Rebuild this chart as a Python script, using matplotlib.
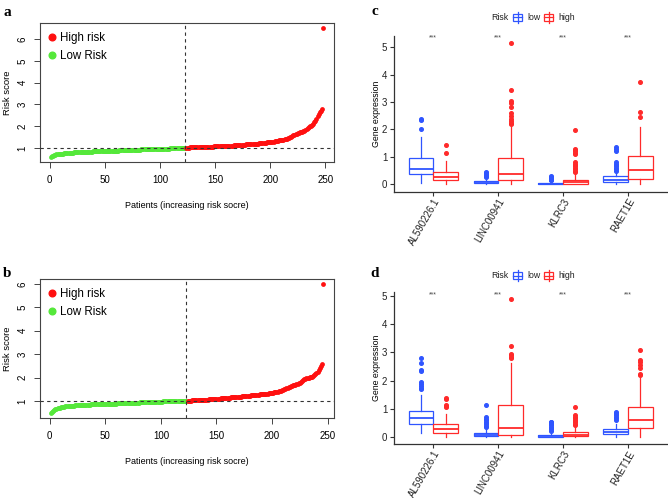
import matplotlib
matplotlib.use("Agg")
import matplotlib.pyplot as plt
from matplotlib.lines import Line2D
from matplotlib.patches import Rectangle

SANS = ["Liberation Sans", "DejaVu Sans"]
plt.rcParams["font.family"] = SANS

# ---- risk score curves (sorted), panels a and b ----
a_low = [0.60,0.63,0.66,0.68,0.70,0.71,0.72,0.73,0.74,0.74,
         0.75,0.75,0.76,0.76,0.77,0.77,0.78,0.78,0.79,0.79,
         0.79,0.80,0.80,0.80,0.81,0.81,0.81,0.82,0.82,0.82,
         0.83,0.83,0.83,0.83,0.84,0.84,0.84,0.84,0.85,0.85,
         0.85,0.85,0.86,0.86,0.86,0.86,0.86,0.87,0.87,0.87,
         0.87,0.87,0.88,0.88,0.88,0.88,0.88,0.89,0.89,0.89,
         0.89,0.89,0.90,0.90,0.90,0.90,0.90,0.91,0.91,0.91,
         0.91,0.91,0.92,0.92,0.92,0.92,0.92,0.93,0.93,0.93,
         0.93,0.93,0.94,0.94,0.94,0.94,0.94,0.95,0.95,0.95,
         0.95,0.95,0.96,0.96,0.96,0.96,0.96,0.97,0.97,0.97,
         0.97,0.97,0.97,0.98,0.98,0.98,0.98,0.98,0.99,0.99,
         0.99,0.99,0.99,1.00,1.00,1.00,1.00,1.00,1.01,1.01,
         1.01,1.01,1.02]
a_high = [1.02,1.02,1.02,1.03,1.03,1.03,1.03,1.04,1.04,1.04,
          1.04,1.04,1.05,1.05,1.05,1.05,1.06,1.06,1.06,1.06,
          1.06,1.07,1.07,1.07,1.07,1.08,1.08,1.08,1.08,1.09,
          1.09,1.09,1.09,1.10,1.10,1.10,1.10,1.11,1.11,1.11,
          1.12,1.12,1.12,1.13,1.13,1.13,1.14,1.14,1.14,1.15,
          1.15,1.15,1.16,1.16,1.17,1.17,1.17,1.18,1.18,1.19,
          1.19,1.19,1.20,1.20,1.21,1.21,1.22,1.22,1.23,1.23,
          1.24,1.25,1.25,1.26,1.26,1.27,1.28,1.28,1.29,1.30,
          1.31,1.32,1.33,1.34,1.35,1.36,1.37,1.38,1.39,1.40,
          1.42,1.44,1.46,1.48,1.50,1.52,1.55,1.58,1.61,1.64,
          1.66,1.68,1.70,1.72,1.74,1.76,1.78,1.80,1.83,1.86,
          1.90,1.95,2.00,2.02,2.05,2.10,2.18,2.26,2.35,2.45,
          2.55,2.65,2.72,2.78,6.50]
b_low = [0.48,0.53,0.58,0.62,0.65,0.67,0.69,0.71,0.72,0.73,
         0.74,0.75,0.76,0.77,0.77,0.78,0.78,0.79,0.79,0.80,
         0.80,0.80,0.81,0.81,0.81,0.82,0.82,0.82,0.83,0.83,
         0.83,0.83,0.84,0.84,0.84,0.84,0.85,0.85,0.85,0.85,
         0.86,0.86,0.86,0.86,0.86,0.87,0.87,0.87,0.87,0.87,
         0.88,0.88,0.88,0.88,0.88,0.89,0.89,0.89,0.89,0.89,
         0.90,0.90,0.90,0.90,0.90,0.91,0.91,0.91,0.91,0.91,
         0.92,0.92,0.92,0.92,0.92,0.93,0.93,0.93,0.93,0.93,
         0.94,0.94,0.94,0.94,0.94,0.95,0.95,0.95,0.95,0.95,
         0.96,0.96,0.96,0.96,0.96,0.97,0.97,0.97,0.97,0.97,
         0.97,0.98,0.98,0.98,0.98,0.98,0.99,0.99,0.99,0.99,
         0.99,0.99,1.00,1.00,1.00,1.00,1.00,1.00,1.00,1.00,
         1.00,1.00,1.00]
b_high = [1.00,1.01,1.01,1.01,1.02,1.02,1.02,1.03,1.03,1.03,
          1.04,1.04,1.04,1.05,1.05,1.05,1.06,1.06,1.06,1.07,
          1.07,1.07,1.08,1.08,1.08,1.09,1.09,1.10,1.10,1.10,
          1.11,1.11,1.12,1.12,1.12,1.13,1.13,1.14,1.14,1.15,
          1.15,1.16,1.16,1.17,1.17,1.18,1.18,1.19,1.19,1.20,
          1.20,1.21,1.21,1.22,1.22,1.23,1.23,1.24,1.24,1.25,
          1.25,1.26,1.26,1.27,1.27,1.28,1.28,1.29,1.29,1.30,
          1.30,1.31,1.31,1.32,1.33,1.34,1.35,1.36,1.37,1.38,
          1.39,1.40,1.41,1.42,1.44,1.46,1.48,1.50,1.52,1.54,
          1.56,1.58,1.60,1.62,1.64,1.66,1.68,1.70,1.72,1.74,
          1.76,1.78,1.80,1.84,1.88,1.92,1.95,1.97,1.98,2.00,
          2.01,2.02,2.03,2.05,2.10,2.15,2.20,2.25,2.30,2.40,
          2.50,2.58,5.97]
cutoff = 1.0

# ---- gene expression boxplots, panels c and d ----
genes = ["AL590226.1", "LINC00941", "KLRC3", "RAET1E"]
# per gene: [q1, median, q3, whisker low, whisker high]
c_low_box = [[0.38, 0.56, 0.97, 0.04, 1.74], [0.04, 0.08, 0.12, 0.0, 0.24],
             [0.0, 0.02, 0.05, 0.0, 0.12], [0.09, 0.16, 0.30, 0.0, 0.42]]
c_high_box = [[0.15, 0.28, 0.44, 0.0, 0.84], [0.15, 0.36, 0.95, 0.0, 2.10],
              [0.01, 0.09, 0.17, 0.0, 0.40], [0.20, 0.52, 1.02, 0.0, 2.10]]
c_low_out = [[2.0, 2.33, 2.37], [0.28, 0.31, 0.34, 0.37, 0.40, 0.43, 0.46],
             [0.14, 0.17, 0.20, 0.23, 0.26, 0.30],
             [0.5, 0.55, 0.6, 0.65, 0.7, 0.75, 0.8, 1.22, 1.3, 1.36]]
c_high_out = [[1.14, 1.43], [2.2, 2.25, 2.3, 2.4, 2.5, 2.6, 2.82, 2.98, 3.05, 3.45, 5.15],
              [0.45, 0.5, 0.55, 0.6, 0.65, 0.7, 0.75, 0.8, 1.1, 1.15, 1.2, 1.25, 1.3, 1.97],
              [2.47, 2.62, 3.73]]
d_low_box = [[0.48, 0.67, 0.94, 0.15, 1.49], [0.03, 0.07, 0.16, 0.0, 0.30],
             [0.0, 0.04, 0.09, 0.0, 0.18], [0.10, 0.18, 0.30, 0.0, 0.45]]
d_high_box = [[0.15, 0.29, 0.45, 0.0, 0.83], [0.09, 0.31, 1.14, 0.0, 2.62],
              [0.04, 0.09, 0.19, 0.0, 0.38], [0.32, 0.62, 1.06, 0.0, 2.10]]
d_low_out = [[1.7, 1.75, 1.8, 1.9, 1.97, 2.33, 2.37, 2.62, 2.82],
             [0.35, 0.4, 0.45, 0.5, 0.55, 0.6, 0.65, 0.7, 1.15],
             [0.22, 0.27, 0.32, 0.37, 0.42, 0.47, 0.52, 0.55],
             [0.62, 0.67, 0.72, 0.77, 0.82, 0.87, 0.9]]
d_high_out = [[1.05, 1.1, 1.15, 1.35, 1.4], [2.8, 2.85, 2.9, 2.95, 3.23, 4.9],
              [0.42, 0.47, 0.52, 0.57, 0.62, 0.67, 0.72, 0.78, 1.07],
              [2.2, 2.25, 2.45, 2.55, 2.65, 2.72, 3.1]]
sig = ["***", "***", "***", "***"]

GREEN = "#55e83a"; RED = "#ff1010"
BLUE = "#2f55ff"; BRED = "#ff2a2a"

fig = plt.figure(figsize=(6.68, 4.98), dpi=100)
W, H = 668, 498
def px_axes(x0, y0, x1, y1):
    return fig.add_axes([x0 / W, 1 - y1 / H, (x1 - x0) / W, (y1 - y0) / H])


def risk_panel(ax, low, high, ylim):
    n_low = len(low)
    xs_low = list(range(1, n_low + 1))
    xs_high = list(range(n_low + 1, n_low + len(high) + 1))
    ax.scatter(xs_low, low, s=12, color=GREEN, lw=0, zorder=3)
    ax.scatter(xs_high, high, s=12, color=RED, lw=0, zorder=3)
    ax.axhline(cutoff, color="#333", ls=(0, (3, 3)), lw=0.8, zorder=4)
    ax.axvline(n_low, color="#333", ls=(0, (3, 3)), lw=0.8, zorder=4)
    n = n_low + len(high)
    ax.set_xlim(1 - 0.04 * (n - 1), n + 0.04 * (n - 1))
    ax.set_ylim(*ylim)
    ax.set_xticks([0, 50, 100, 150, 200, 250])
    ax.set_yticks([1, 2, 3, 4, 5, 6])
    for sp in ax.spines.values():
        sp.set_color("#444"); sp.set_linewidth(0.8)
    ax.tick_params(length=4, width=0.7, color="#444", labelsize=7, pad=5)
    for t in ax.get_yticklabels():
        t.set_rotation(90); t.set_va("center")
    ax.set_xlabel("Patients (increasing risk socre)", fontsize=6.5, labelpad=12)
    ax.set_ylabel("Risk score", fontsize=6.8, labelpad=4)
    handles = [Line2D([], [], ls="", marker="o", ms=4.8, color=RED, label="High risk"),
               Line2D([], [], ls="", marker="o", ms=4.8, color=GREEN, label="Low Risk")]
    ax.legend(handles=handles, loc="upper left", frameon=False, handlelength=0.5,
              handletextpad=0.45, labelspacing=0.55, borderaxespad=0.45,
              borderpad=0.3, prop={"size": 8.3})


def box_panel(ax, low_box, high_box, low_out, high_out, ylim, sig_y):
    for boxes, outs, off, col in [(low_box, low_out, -0.19, BLUE), (high_box, high_out, 0.19, BRED)]:
        stats = []
        for b, o in zip(boxes, outs):
            stats.append(dict(q1=b[0], med=b[1], q3=b[2], whislo=b[3], whishi=b[4], fliers=o))
        pos = [i + 1 + off for i in range(len(boxes))]
        ax.bxp(stats, positions=pos, widths=0.38, showcaps=False, patch_artist=True,
               boxprops=dict(facecolor="white", edgecolor=col, lw=0.9),
               medianprops=dict(color=col, lw=1.3),
               whiskerprops=dict(color=col, lw=0.9),
               flierprops=dict(marker="o", markerfacecolor=col, markeredgecolor=col,
                               markersize=2.6, lw=0))
    for i, s in enumerate(sig):
        ax.text(i + 1, sig_y, s, ha="center", va="center", fontsize=5, color="#444")
    ax.set_xlim(0.4, 4.6)
    ax.set_ylim(*ylim)
    ax.set_xticks(range(1, len(genes) + 1))
    ax.set_xticklabels(genes, rotation=60, ha="right", va="top", rotation_mode="anchor",
                       fontsize=5.2)
    ax.set_yticks([0, 1, 2, 3, 4, 5])
    ax.spines["top"].set_visible(False); ax.spines["right"].set_visible(False)
    for sp in ("left", "bottom"):
        ax.spines[sp].set_color("#333"); ax.spines[sp].set_linewidth(0.9)
    ax.tick_params(length=3, width=0.8, color="#333", labelsize=7, labelcolor="#222", pad=2)
    ax.tick_params(axis="x", pad=0.5)
    ax.set_ylabel("Gene expression", fontsize=6.3, labelpad=1)


ax_a = px_axes(40, 23, 334, 162)
risk_panel(ax_a, a_low, a_high, (0.364, 6.736))
ax_b = px_axes(40, 279.3, 334, 418.3)
risk_panel(ax_b, b_low, b_high, (0.26, 6.19))
ax_c = px_axes(394.3, 36, 667, 191.7)
box_panel(ax_c, c_low_box, c_high_box, c_low_out, c_high_out, (-0.27, 5.41), 5.33)
ax_d = px_axes(394.3, 292, 667, 444)
box_panel(ax_d, d_low_box, d_high_box, d_low_out, d_high_out, (-0.245, 5.145), 5.05)

# overlay in pixel coordinates: panel letters and box legends
ov = fig.add_axes([0, 0, 1, 1]); ov.set_xlim(0, W); ov.set_ylim(H, 0); ov.axis("off")
for x, y, t in [(7, 12, "a"), (7, 273, "b"), (375, 11, "c"), (375, 273, "d")]:
    ov.text(x, y, t, fontsize=11, fontweight="bold", family=["Liberation Serif", "DejaVu Serif"],
            ha="center", va="center")
for yc in (17.3, 275.7):
    ov.text(499.5, yc, "Risk", fontsize=6.3, ha="center", va="center", color="#222")
    for xb, col, lab in [(517.5, BLUE, "low"), (548.5, BRED, "high")]:
        ov.plot([xb, xb], [yc - 5.5, yc + 5.5], color=col, lw=0.9)
        ov.add_patch(Rectangle((xb - 4.5, yc - 3.5), 9, 7, facecolor="white", edgecolor=col, lw=0.9))
        ov.plot([xb - 4.5, xb + 4.5], [yc, yc], color=col, lw=0.9)
        ov.text(xb + 10, yc, lab, fontsize=6.3, ha="left", va="center", color="#222")

fig.savefig("out.png", dpi=100, facecolor="white")
